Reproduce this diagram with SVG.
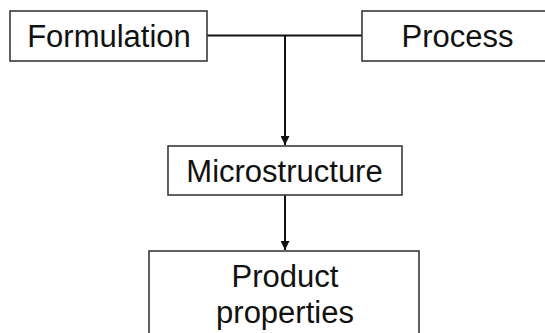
<svg xmlns="http://www.w3.org/2000/svg" width="545" height="333" viewBox="0 0 545 333">
<defs>
<style>
.box{fill:#fff;stroke:#3a3a3a;stroke-width:1.6}
.lbl{font-family:"Liberation Sans",Arial,sans-serif;font-size:31px;fill:#111;text-anchor:middle}
.conn{fill:none;stroke:#111;stroke-width:2}
</style>
<marker id="arr" viewBox="0 0 10 10" refX="10" refY="5" markerWidth="4.5" markerHeight="4.5" markerUnits="strokeWidth" orient="auto">
<path d="M0,0 L10,5 L0,10 z" fill="#111"/>
</marker>
</defs>
<rect width="545" height="333" fill="#fff"/>
<g id="connectors">
<path class="conn" d="M207,35.5 H362"/>
<path class="conn" d="M285,35.5 V145" marker-end="url(#arr)"/>
<path class="conn" d="M285,195 V250" marker-end="url(#arr)"/>
</g>
<g id="formulation">
<rect class="box" x="10" y="11" width="197" height="50"/>
<text class="lbl" x="109" y="47">Formulation</text>
</g>
<g id="process">
<rect class="box" x="362" y="11" width="200" height="50"/>
<text class="lbl" x="457.5" y="47">Process</text>
</g>
<g id="microstructure">
<rect class="box" x="168" y="146" width="234" height="49"/>
<text class="lbl" x="284.5" y="182">Microstructure</text>
</g>
<g id="product">
<rect class="box" x="149" y="251" width="270" height="100"/>
<text class="lbl" x="285" y="287">Product</text>
<text class="lbl" x="285" y="323">properties</text>
</g>
</svg>
